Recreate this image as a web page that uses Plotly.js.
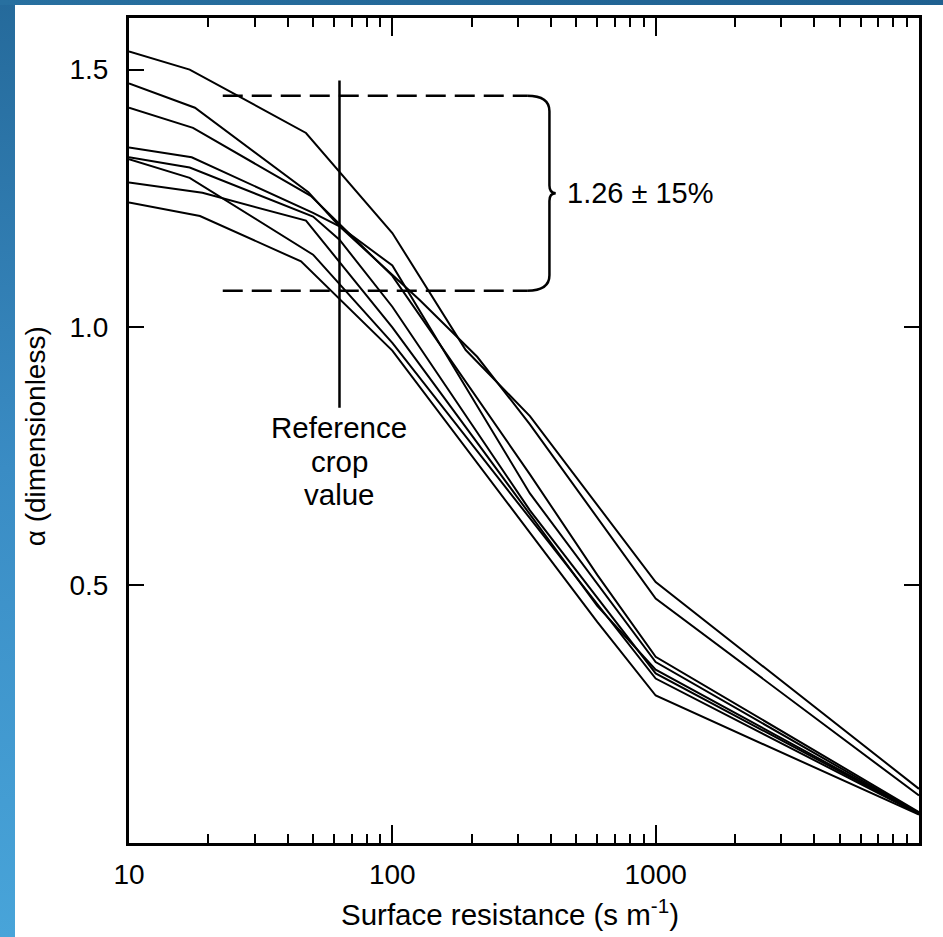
<!DOCTYPE html>
<html>
<head>
<meta charset="utf-8">
<script src="https://cdn.plot.ly/plotly-3.0.1.min.js"></script>
<style>
  html, body { margin:0; padding:0; background:#ffffff; }
  #chart { position:absolute; left:0; top:0; width:943px; height:937px; }
  #leftband { position:absolute; left:0; top:0; width:15px; height:937px;
    background: linear-gradient(to bottom, #256a9b 0%, #3a8cc4 50%, #48a4d9 100%); z-index:5; }
  #topband { position:absolute; left:0; top:0; width:943px; height:5px;
    background: linear-gradient(to right, #2870a0, #1f6090); z-index:6; }
</style>
</head>
<body>
<div id="chart"></div>
<div id="leftband"></div>
<div id="topband"></div>
<script>
// Each curve: surface resistance nodes (s m-1) and alpha values
const curveAx = [10, 17, 47, 100, 190, 333, 1000, 10000];
const curveAy = [1.535, 1.50, 1.377, 1.183, 0.956, 0.828, 0.506, 0.105];
const curveBx = [10, 17.8, 48, 63, 127, 210, 333, 1000, 10000];
const curveBy = [1.473, 1.426, 1.262, 1.196, 1.053, 0.943, 0.812, 0.474, 0.092];
const curveCx = [10, 17.5, 49, 100, 333, 600, 1000, 10000];
const curveCy = [1.426, 1.387, 1.255, 1.10, 0.715, 0.52, 0.361, 0.060];
const curveDx = [10, 17.3, 50, 63, 100, 333, 1000, 10000];
const curveDy = [1.349, 1.33, 1.222, 1.196, 1.12, 0.678, 0.351, 0.058];
const curveEx = [10, 17, 50, 63, 100, 333, 1000, 10000];
const curveEy = [1.330, 1.31, 1.215, 1.17, 1.04, 0.645, 0.329, 0.057];
const curveFx = [10, 17, 50, 100, 1000, 10000];
const curveFy = [1.326, 1.29, 1.141, 0.97, 0.319, 0.056];
const curveGx = [10, 19, 47, 100, 600, 1000, 10000];
const curveGy = [1.281, 1.261, 1.207, 1.00, 0.46, 0.336, 0.058];
const curveHx = [10, 18.6, 45, 100, 600, 1000, 10000];
const curveHy = [1.242, 1.216, 1.128, 0.955, 0.429, 0.286, 0.055];
const curves = [
  [curveAx, curveAy], [curveBx, curveBy], [curveCx, curveCy], [curveDx, curveDy],
  [curveEx, curveEy], [curveFx, curveFy], [curveGx, curveGy], [curveHx, curveHy]
];

// reference crop value and the +-15% band
const refX = 63;
const refLineY = [0.844, 1.479];
const bandUpper = 1.449;   // 1.26 * 1.15
const bandLower = 1.071;   // 1.26 * 0.85
const bandX = [22.7, 325];
const braceX = 395;
const bandLabel = '1.26 \u00b1 15%';
const refLabelLines = ['Reference', 'crop', 'value'];
const refLabelTop = 0.805;
const refLabelStep = 0.065;

const xTickVals = [10, 100, 1000];
const xTickText = ['10', '100', '1000'];
const xMinor = [20,30,40,50,60,70,80,90,200,300,400,500,600,700,800,900,2000,3000,4000,5000,6000,7000,8000,9000];
const yTickVals = [0.5, 1.0, 1.5];
const yTickText = ['0.5', '1.0', '1.5'];
const yRightTicks = [0.5, 1.0];
const xTitle = 'Surface resistance (s m<sup>-1</sup>)';
const yTitle = '\u03b1 (dimensionless)';

const traces = curves.map(c => ({
  x: c[0], y: c[1], type: 'scatter', mode: 'lines',
  line: {color: '#000', width: 2}, showlegend: false, hoverinfo: 'skip'
}));
traces.push({x: bandX, y: [bandUpper, bandUpper], mode: 'lines',
  line: {color:'#000', width: 2.5, dash: '20px,9px'}, showlegend:false});
traces.push({x: bandX, y: [bandLower, bandLower], mode: 'lines',
  line: {color:'#000', width: 2.5, dash: '20px,9px'}, showlegend:false});
traces.push({x: [refX, refX], y: refLineY, mode: 'lines',
  line: {color:'#000', width: 2.5}, showlegend:false});
// carrier for the right-hand tick axis
traces.push({x: [refX], y: [refLineY[0]], yaxis: 'y2', mode: 'markers',
  marker: {opacity: 0}, showlegend: false, hoverinfo: 'skip'});

// brace path (paper x, data y)
const px = v => (Math.log10(v) - 1) / 3;
const xe = px(bandX[1]);
const xb = px(braceX);
const w = 0.008;
const ym = (bandUpper + bandLower) / 2;
const dy = 0.015;
const bracePath =
  `M ${xe} ${bandUpper} Q ${xb} ${bandUpper} ${xb} ${bandUpper - 2*dy} ` +
  `L ${xb} ${ym + dy} Q ${xb} ${ym} ${xb + w} ${ym} ` +
  `Q ${xb} ${ym} ${xb} ${ym - dy} ` +
  `L ${xb} ${bandLower + 2*dy} Q ${xb} ${bandLower} ${xe} ${bandLower}`;

const font = {family: 'Liberation Sans, Arial, sans-serif', color: '#000'};
const f = s => Object.assign({size: s}, font);

const annotations = [
  {xref: 'paper', yref: 'y', x: xb + w + 0.012, y: ym, text: bandLabel, showarrow: false,
   xanchor: 'left', yanchor: 'middle', font: f(29)},
  {xref: 'paper', yref: 'paper', x: 0.482, y: -0.084, text: xTitle, showarrow: false,
   xanchor: 'center', yanchor: 'middle', font: f(29.5)},
  {xref: 'paper', yref: 'paper', x: -0.119, y: 0.493, text: yTitle, showarrow: false,
   textangle: -90, xanchor: 'center', yanchor: 'middle', font: f(28)}
];
refLabelLines.forEach((t, i) => annotations.push({
  xref: 'x', yref: 'y', x: Math.log10(refX), y: refLabelTop - i * refLabelStep, text: t,
  showarrow: false, xanchor: 'center', yanchor: 'middle', font: f(29.5)
}));

const layout = {
  width: 943, height: 937,
  margin: {l: 129, r: 24, t: 18, b: 94},
  paper_bgcolor: '#ffffff', plot_bgcolor: '#ffffff',
  showlegend: false,
  xaxis: {
    type: 'log', range: [1, 4],
    tickmode: 'array', tickvals: xTickVals, ticktext: xTickText,
    ticks: 'inside', ticklen: 18, tickwidth: 2, tickcolor: '#000',
    minor: {tickvals: xMinor, ticks: 'inside', ticklen: 9, tickwidth: 2, tickcolor: '#000', showgrid: false},
    showline: true, linewidth: 3, linecolor: '#000', mirror: 'ticks',
    showgrid: false, zeroline: false,
    tickfont: f(28), ticklabelstandoff: 4
  },
  yaxis: {
    range: [0, 1.6],
    tickmode: 'array', tickvals: yTickVals, ticktext: yTickText,
    ticks: 'inside', ticklen: 15, tickwidth: 2, tickcolor: '#000',
    showline: true, linewidth: 3, linecolor: '#000', mirror: true,
    showgrid: false, zeroline: false,
    tickfont: f(28), ticklabelstandoff: 12
  },
  yaxis2: {
    overlaying: 'y', side: 'right', range: [0, 1.6],
    tickmode: 'array', tickvals: yRightTicks, showticklabels: false,
    ticks: 'inside', ticklen: 15, tickwidth: 2, tickcolor: '#000',
    showline: false, showgrid: false, zeroline: false
  },
  shapes: [{type: 'path', xref: 'paper', yref: 'y', path: bracePath,
            line: {color: '#000', width: 2.5}}],
  annotations: annotations
};

Plotly.newPlot('chart', traces, layout, {displayModeBar: false, staticPlot: true});
</script>
</body>
</html>
